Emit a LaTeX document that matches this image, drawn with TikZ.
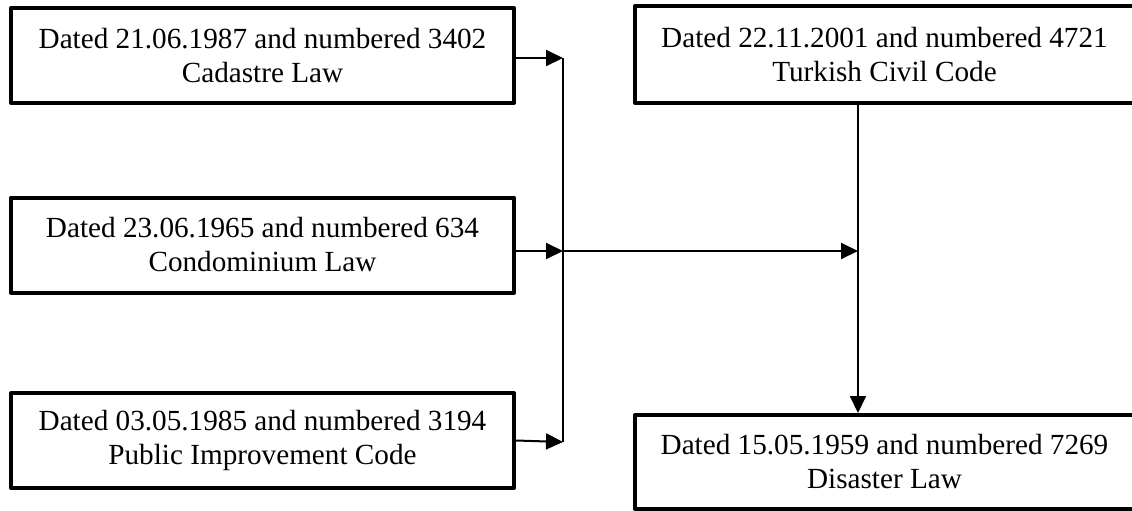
\documentclass[tikz,border=0pt]{standalone}
\usepackage{fontspec}
\setmainfont{Liberation Serif}
\usetikzlibrary{arrows.meta}
\tikzset{
  lawbox/.style={draw,line width=2pt,align=center,inner sep=0pt,
    minimum width=251.5pt,minimum height=47.5pt,
    font=\fontsize{14.6}{17}\selectfont},
  link/.style={line width=1pt,->}
}
\begin{document}
\begin{tikzpicture}[x=0.5pt,y=-0.5pt,line join=round,>={Triangle[length=8.5pt,width=8pt]}]
\useasboundingbox (0,0) rectangle (1132,510);
\path
(262.5,55.5) coordinate (P1)
(262.5,245) coordinate (P2)
(262.5,440.5) coordinate (P3)
(884.5,54.5) coordinate (Q1)
(884.5,462) coordinate (Q2)
(563,58) coordinate (T)
(563,251) coordinate (M)
(563,442) coordinate (B)
(858,251) coordinate (J)
;
\node[lawbox] (cad) at (P1) {Dated 21.06.1987 and numbered 3402\\Cadastre Law};
\node[lawbox] (con) at (P2) {Dated 23.06.1965 and numbered 634\\Condominium Law};
\node[lawbox] (pub) at (P3) {Dated 03.05.1985 and numbered 3194\\Public Improvement Code};
\node[lawbox,minimum width=249.5pt,minimum height=48.5pt] (civ) at (Q1) {Dated 22.11.2001 and numbered 4721\\Turkish Civil Code};
\node[lawbox,minimum width=249.5pt,minimum height=47pt] (dis) at (Q2) {Dated 15.05.1959 and numbered 7269\\Disaster Law};
% bus on the left
\draw[line width=0.8pt] (T) -- (B);
\draw[link] (cad.east |- T) -- (T);
\draw[link] (con.east |- M) -- (M);
\draw[link] (pub.east) -- (B);
\draw[link] (M) -- (J);
\draw[link] (J |- civ.south) -- (J |- dis.north);
\end{tikzpicture}
\end{document}
